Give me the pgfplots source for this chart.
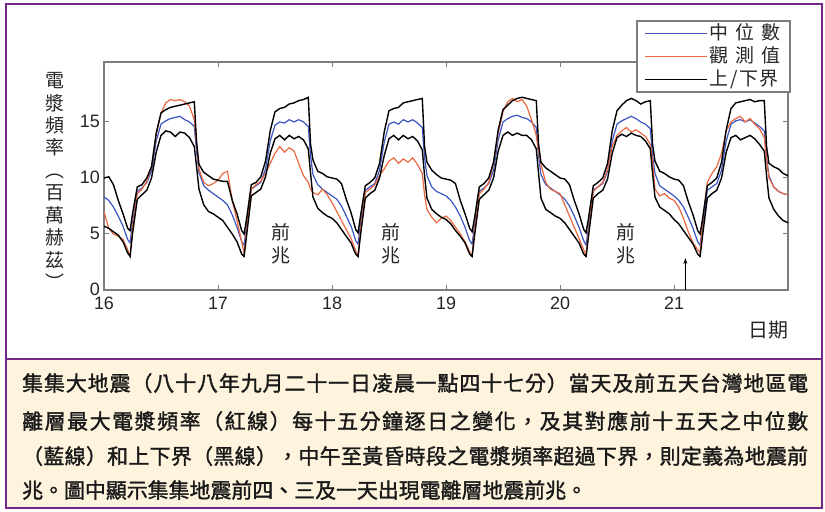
\documentclass[border=0pt]{standalone}
\usepackage{pgfplots}
\pgfplotsset{compat=1.18}
\usepackage{pgfplotstable}
\usetikzlibrary{arrows.meta}
\usepackage{fontspec}
\setmainfont{Liberation Sans}
\newfontfamily\cjk{Noto Sans CJK TC}
\newfontfamily\cjkb{Noto Sans CJK TC}[FakeBold=1.5]
\definecolor{medblue}{RGB}{60,85,195}
\definecolor{obsred}{RGB}{235,105,65}
\definecolor{framegray}{RGB}{125,125,125}
\definecolor{purp}{RGB}{115,40,135}
\definecolor{capbg}{RGB}{254,244,222}
\def\spread#1{\ifx\relax#1\else#1\hskip0pt plus 1fil\relax\expandafter\spread\fi}
\pgfplotstableread{
x U M L R
16.000 10.0 8.3 5.7 7.0
16.042 10.1 8.0 5.5 5.5
16.083 9.4 7.4 5.2 5.0
16.125 8.0 6.6 4.9 4.8
16.167 6.8 5.7 4.3 4.5
16.208 5.5 4.5 3.3 3.6
16.229 5.3 4.2 3.0 3.0
16.250 6.8 6.0 5.0 5.5
16.292 9.2 8.8 8.1 8.6
16.333 9.4 9.1 8.5 9.0
16.375 10.0 9.6 8.9 9.7
16.417 11.0 10.6 10.0 11.0
16.458 14.0 13.3 12.3 13.8
16.500 15.8 14.8 13.8 15.8
16.542 16.1 15.1 14.2 16.7
16.583 16.3 15.3 14.1 17.0
16.625 16.4 15.4 13.7 16.9
16.667 16.5 15.5 14.1 17.0
16.708 16.6 15.2 14.0 16.8
16.750 16.7 15.0 13.6 16.4
16.792 16.8 14.6 12.8 15.2
16.812 13.2 12.4 11.0 13.0
16.833 11.2 10.5 9.0 10.8
16.875 10.5 9.3 7.6 9.6
16.917 10.2 8.9 7.0 9.3
16.958 9.9 8.6 6.8 9.5
17.000 9.8 8.3 6.5 9.8
17.042 9.7 8.0 6.2 10.4
17.083 9.7 7.6 5.6 10.6
17.125 8.0 6.7 5.0 8.0
17.167 6.8 5.6 4.3 6.2
17.208 5.3 4.3 3.2 4.3
17.229 5.0 4.0 3.0 3.3
17.250 6.3 5.6 4.8 5.3
17.292 9.4 9.0 8.4 9.0
17.333 9.6 9.3 8.7 9.4
17.375 10.1 9.6 9.0 9.7
17.417 11.5 10.8 10.1 10.4
17.458 14.2 13.3 12.2 11.3
17.500 15.9 14.7 13.5 12.2
17.542 16.2 15.0 13.8 12.8
17.583 16.3 14.9 13.4 12.3
17.625 16.6 15.2 13.8 12.7
17.667 16.7 15.0 13.5 12.4
17.708 16.9 15.2 13.7 11.3
17.750 17.0 15.0 13.4 10.2
17.792 17.2 14.6 12.6 9.6
17.812 13.0 12.0 10.4 9.0
17.833 11.6 10.3 8.3 8.7
17.875 10.6 9.4 7.3 8.5
17.917 10.4 9.0 6.9 9.0
17.958 10.1 8.7 6.6 8.5
18.000 10.0 8.4 6.4 7.8
18.042 9.9 8.1 6.0 7.0
18.083 9.5 7.5 5.4 6.2
18.125 8.1 6.6 4.8 5.4
18.167 6.9 5.7 4.2 4.6
18.208 5.4 4.4 3.2 3.5
18.229 5.1 4.1 3.0 3.0
18.250 6.6 5.8 4.9 5.4
18.292 9.3 8.9 8.2 8.7
18.333 9.6 9.2 8.6 9.0
18.375 10.0 9.5 8.9 9.4
18.417 11.3 10.7 10.0 10.2
18.458 14.1 13.2 12.0 10.8
18.500 16.0 14.8 13.5 11.5
18.542 16.2 15.0 13.8 11.8
18.583 16.3 14.8 13.4 11.3
18.625 16.7 15.2 13.8 11.7
18.667 16.8 15.0 13.5 11.4
18.708 16.9 15.2 13.7 11.8
18.750 17.0 14.9 13.3 11.2
18.792 17.1 14.5 12.5 10.4
18.812 12.8 11.8 10.2 8.5
18.833 11.4 10.2 8.2 7.2
18.875 10.7 9.2 7.2 6.5
18.917 10.3 8.8 6.8 6.0
18.958 10.0 8.6 6.5 6.4
19.000 9.9 8.4 6.3 6.6
19.042 9.8 8.0 5.9 6.2
19.083 9.5 7.4 5.3 5.6
19.125 8.0 6.6 4.8 5.0
19.167 6.8 5.6 4.2 4.3
19.208 5.5 4.4 3.2 3.4
19.229 5.2 4.1 3.0 3.0
19.250 6.4 5.7 4.8 5.3
19.292 9.2 8.8 8.1 8.6
19.333 9.5 9.1 8.5 9.0
19.375 10.0 9.5 8.9 9.6
19.417 11.4 10.7 10.0 11.3
19.458 14.3 13.4 12.4 14.0
19.500 16.1 15.0 13.8 15.9
19.542 16.5 15.3 14.1 16.8
19.583 16.9 15.5 13.8 17.1
19.625 17.1 15.6 14.0 16.8
19.667 17.2 15.4 13.8 17.0
19.708 17.1 15.3 13.8 16.4
19.750 17.0 15.0 13.4 15.2
19.792 16.9 14.5 12.6 13.8
19.812 13.0 12.0 10.4 12.4
19.833 11.4 10.3 8.2 11.2
19.875 10.9 9.4 7.2 9.6
19.917 10.6 9.1 6.9 9.0
19.958 10.3 8.8 6.6 8.8
20.000 10.0 8.5 6.4 8.6
20.042 9.9 8.1 6.0 7.6
20.083 9.4 7.5 5.4 6.6
20.125 8.0 6.6 4.8 5.6
20.167 6.8 5.6 4.2 4.6
20.208 5.4 4.4 3.2 3.6
20.229 5.1 4.0 3.0 3.1
20.250 6.4 5.6 4.8 5.2
20.292 9.3 8.9 8.2 8.8
20.333 9.6 9.2 8.6 9.2
20.375 10.0 9.5 8.9 9.6
20.417 11.3 10.6 9.9 10.8
20.458 14.2 13.3 12.2 12.8
20.500 16.0 14.8 13.6 13.8
20.542 16.5 15.1 13.9 14.2
20.583 16.9 15.3 13.7 14.5
20.625 17.1 15.5 14.0 14.1
20.667 16.9 15.3 13.8 14.3
20.708 16.6 15.0 13.7 14.0
20.750 16.8 14.8 13.3 13.7
20.792 16.9 14.4 12.6 13.0
20.812 13.0 12.0 10.4 11.5
20.833 11.5 10.4 8.3 9.0
20.875 10.6 9.3 7.4 8.4
20.917 10.4 9.0 7.1 8.6
20.958 10.1 8.7 6.8 8.2
21.000 9.9 8.4 6.3 8.0
21.042 9.8 8.0 5.9 7.4
21.083 9.3 7.4 5.3 6.4
21.125 7.9 6.5 4.7 5.2
21.167 6.7 5.5 4.1 4.2
21.208 5.3 4.3 3.2 3.6
21.229 5.0 4.0 3.0 3.3
21.250 6.3 5.6 4.8 6.0
21.292 9.3 8.9 8.2 9.6
21.333 9.6 9.2 8.6 10.4
21.375 10.0 9.5 8.9 11.0
21.417 11.4 10.7 10.0 12.2
21.458 14.3 13.3 12.3 14.2
21.500 16.2 14.8 13.6 15.0
21.542 16.7 15.1 13.8 15.3
21.583 16.8 15.2 13.4 15.5
21.625 16.9 15.0 13.6 15.0
21.667 17.0 15.2 13.8 15.3
21.708 16.8 14.9 13.5 14.8
21.750 16.9 14.6 13.0 14.4
21.792 16.9 14.2 12.4 13.6
21.812 12.8 11.8 10.2 11.6
21.833 11.3 10.2 8.2 10.0
21.875 11.0 9.2 7.2 9.2
21.917 10.8 8.8 6.6 8.8
21.958 10.4 8.6 6.2 8.6
22.000 10.2 8.5 6.0 8.5
}\datatable
\begin{document}
\begin{tikzpicture}
\useasboundingbox (0,0) rectangle (825bp,512bp);
\fill[white] (0,0) rectangle (825bp,512bp);
\fill[capbg] (6bp,4bp) rectangle (822bp,153bp);
\draw[purp, line width=2.5bp] (6bp,4bp) rectangle (822bp,508bp);
\draw[purp, line width=2.5bp] (6bp,153bp) -- (822bp,153bp);
\begin{axis}[
  at={(104bp,222bp)}, anchor=south west, scale only axis,
  width=684bp, height=228bp,
  xmin=16, xmax=22, ymin=0, ymax=20.35,
  xtick={16,17,18,19,20,21}, ytick={0,5,10,15},
  tick align=inside, tick pos=both, major tick length=5bp,
  axis line style={draw=framegray, line width=1.8bp},
  every tick/.style={draw=framegray, line width=1bp},
  tick label style={font=\fontsize{18}{20}\selectfont, text=black!85},
  xticklabel style={inner sep=1bp, yshift=-6bp},
  yticklabel style={inner sep=1bp, xshift=-3bp, yshift=1bp},
  /pgf/number format/assume math mode=true,
  legend style={at={(rel axis cs:1.004,1.184)}, anchor=north east,
    draw=framegray, line width=1.6bp, fill=white,
    font=\cjk\fontsize{19}{21}\selectfont, text=black!85,
    inner xsep=7bp, inner ysep=1bp, row sep=0bp,
    nodes={inner sep=2.5bp, text height=15bp, text depth=3bp}},
  legend cell align=left,
  legend image code/.code={\draw[#1, line width=1.3bp] (0bp,0bp) -- (62bp,0bp);},
]
\addplot[medblue, line width=1.2bp] table[x=x, y=M] {\datatable};
\addlegendentry{中\hspace{7bp}位\hspace{7bp}數}
\addplot[obsred, line width=1.2bp] table[x=x, y=R] {\datatable};
\addlegendentry{觀\hspace{7bp}測\hspace{7bp}值}
\addplot[black, line width=1.4bp] table[x=x, y=U] {\datatable};
\addlegendentry{上\hspace{2bp}/\hspace{2bp}下\hspace{1bp}界}
\addplot[black, line width=1.4bp, forget plot] table[x=x, y=L] {\datatable};
\node[font=\cjk\fontsize{19}{23}\selectfont, align=center, text=black!85] at (axis cs:17.55,4.1) {前\\兆};
\node[font=\cjk\fontsize{19}{23}\selectfont, align=center, text=black!85] at (axis cs:18.52,4.1) {前\\兆};
\node[font=\cjk\fontsize{19}{23}\selectfont, align=center, text=black!85] at (axis cs:20.58,4.1) {前\\兆};
\draw[-{Stealth[length=6bp,width=4bp]}, line width=0.8bp] (axis cs:21.1,0) -- (axis cs:21.1,2.85);
\end{axis}
\node[font=\cjk\fontsize{19}{22.5}\selectfont, align=center, text=black!85] at (55bp,331bp) {電\\漿\\頻\\率\\︵\\百\\萬\\赫\\茲\\︶};
\node[font=\cjk\fontsize{20}{22}\selectfont, text=black!85] at (768bp,182bp) {日期};
\begin{scope}[every node/.style={anchor=base west, inner sep=0pt, font=\cjkb\fontsize{21}{24}\selectfont, text=black!90}]
\node at (22bp,121bp) {\hbox to 786bp{\spread 集集大地震（八十八年九月二十一日凌晨一點四十七分）當天及前五天台灣地區電\relax\unskip}};
\node at (22bp,83bp) {\hbox to 786bp{\spread 離層最大電漿頻率（紅線）每十五分鐘逐日之變化，及其對應前十五天之中位數\relax\unskip}};
\node at (22bp,48bp) {\hbox to 786bp{\spread （藍線）和上下界（黑線），中午至黃昏時段之電漿頻率超過下界，則定義為地震前\relax\unskip}};
\node at (22bp,14bp) {兆。圖中顯示集集地震前四、三及一天出現電離層地震前兆。};
\end{scope}
\end{tikzpicture}
\end{document}
